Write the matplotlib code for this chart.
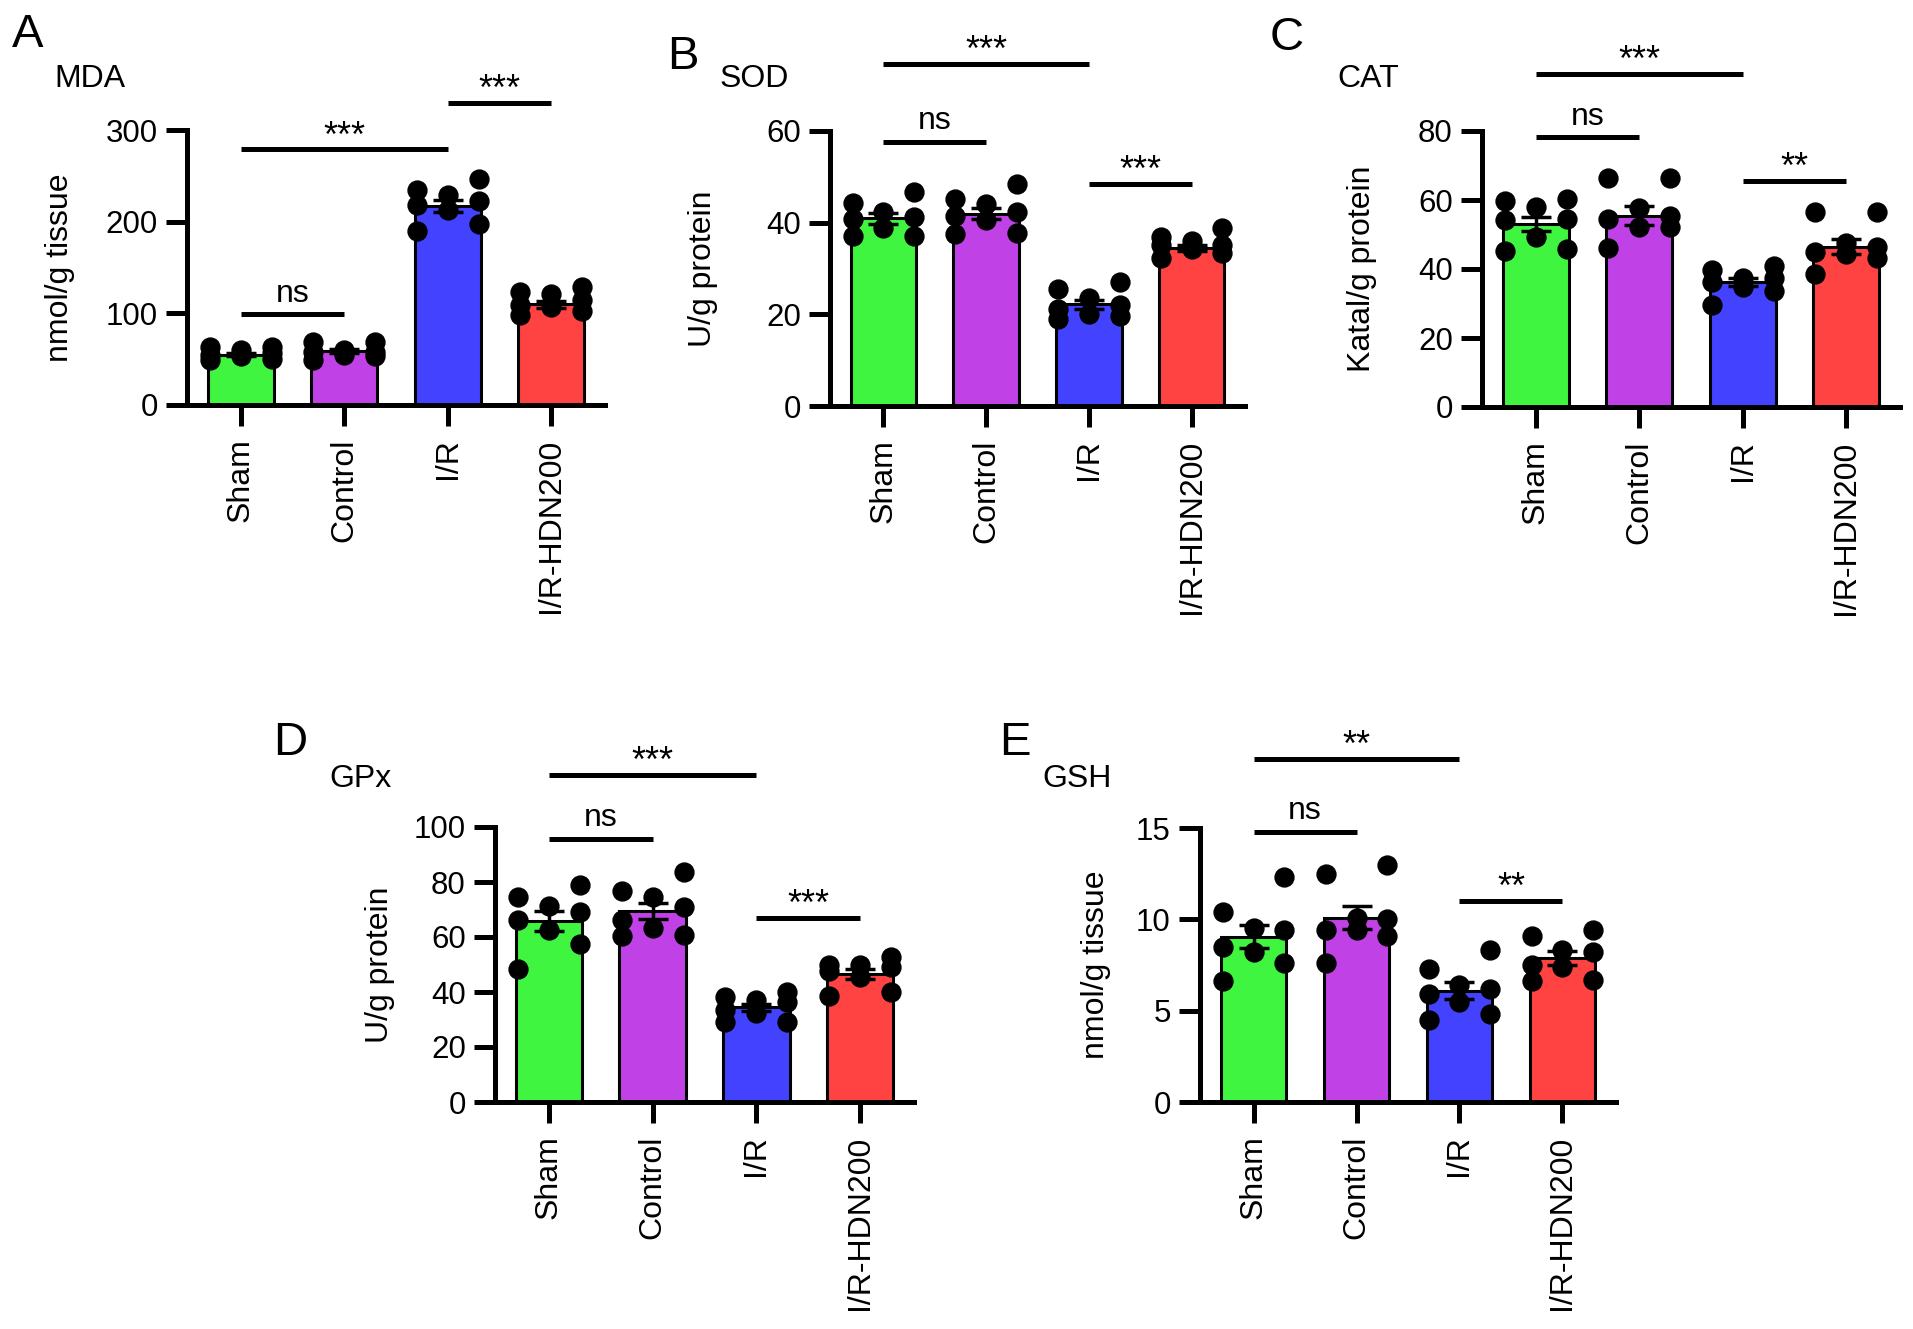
import numpy as np
import matplotlib.pyplot as plt

plt.rcParams['font.family'] = ['Liberation Sans', 'DejaVu Sans']

W, H = 1913, 1329

groups = ['Sham', 'Control', 'I/R', 'I/R-HDN200']
bar_colors = ['#40F53F', '#C042E6', '#4242FF', '#FF4242']

# MDA (nmol/g tissue)
mda_mean = [55, 59, 217, 110]
mda_sem = [2.0, 2.5, 7.0, 4.0]
mda_dots = [[54, 63, 60, 49, 63, 50, 55, 57],
            [55, 69, 58, 60, 69, 49, 58, 54],
            [246, 222, 190, 229, 213, 234, 197, 218],
            [109, 121, 103, 129, 123, 107, 98, 115]]
mda_sig = [(0, 2, 279, '***'), (0, 1, 99, 'ns'), (2, 3, 330, '***')]

# SOD (U/g protein)
sod_mean = [41.0, 42.0, 22.2, 34.5]
sod_sem = [1.2, 1.3, 1.0, 0.7]
sod_dots = [[46.7, 41.3, 37.1, 42.4, 38.9, 44.3, 40.7, 37.1],
            [48.5, 42.4, 37.6, 44.0, 40.5, 45.2, 41.4, 37.8],
            [27.0, 19.7, 23.5, 21.1, 25.6, 19.0, 22.0, 20.0],
            [36.9, 33.3, 38.9, 34.2, 36.0, 32.4, 35.1, 35.1]]
sod_sig = [(0, 2, 74.7, '***'), (0, 1, 57.7, 'ns'), (2, 3, 48.5, '***')]

# CAT (Katal/g protein)
cat_mean = [53.0, 55.5, 36.2, 46.5]
cat_sem = [2.0, 2.8, 1.2, 2.2]
cat_dots = [[59.6, 54.4, 45.1, 58.0, 49.3, 60.2, 54.2, 45.7],
            [57.8, 52.3, 66.4, 46.0, 66.4, 52.3, 54.4, 55.4],
            [37.5, 34.9, 29.5, 37.5, 33.7, 39.7, 40.9, 36.1],
            [43.3, 38.5, 46.3, 56.6, 56.6, 47.5, 44.3, 44.8]]
cat_sig = [(0, 2, 96.6, '***'), (0, 1, 78.2, 'ns'), (2, 3, 65.6, '**')]

# GPx (U/g protein)
gpx_mean = [65.8, 69.5, 34.4, 46.6]
gpx_sem = [3.5, 3.0, 1.3, 1.7]
gpx_dots = [[69.0, 74.5, 57.3, 48.3, 79.0, 71.1, 62.5, 66.3],
            [74.5, 60.3, 83.5, 63.3, 76.8, 70.8, 60.6, 66.3],
            [40.0, 29.1, 37.0, 36.3, 29.1, 38.1, 32.5, 33.3],
            [49.0, 49.8, 38.5, 49.8, 40.0, 52.8, 45.3, 47.5]]
gpx_sig = [(0, 2, 119, '***'), (0, 1, 95.8, 'ns'), (2, 3, 67, '***')]

# GSH (nmol/g tissue)
gsh_mean = [9.06, 10.1, 6.1, 7.9]
gsh_sem = [0.65, 0.65, 0.45, 0.38]
gsh_dots = [[10.4, 8.5, 12.3, 9.4, 7.6, 6.6, 9.5, 8.2],
            [9.4, 12.5, 10.0, 7.6, 13.0, 10.1, 9.1, 9.4],
            [6.4, 5.9, 4.5, 8.3, 5.5, 7.3, 6.2, 4.8],
            [9.4, 8.3, 7.5, 6.6, 7.4, 9.1, 8.2, 6.7]]
gsh_sig = [(0, 2, 18.8, '**'), (0, 1, 14.8, 'ns'), (2, 3, 11, '**')]

# layout in pixels: left, right, top, bottom of the axes box
panels = [
    dict(letter='A', title='MDA', ylabel='nmol/g tissue', mean=mda_mean, sem=mda_sem,
         dots=mda_dots, sig=mda_sig, ymax=300, yticks=[0, 100, 200, 300],
         box=(187, 605, 130, 405), title_xy=(54, 79), letter_xy=(12, 13), ylab_x=-0.268),
    dict(letter='B', title='SOD', ylabel='U/g protein', mean=sod_mean, sem=sod_sem,
         dots=sod_dots, sig=sod_sig, ymax=60, yticks=[0, 20, 40, 60],
         box=(830, 1245, 131, 406), title_xy=(720, 79), letter_xy=(667, 35), ylab_x=-0.27),
    dict(letter='C', title='CAT', ylabel='Katal/g protein', mean=cat_mean, sem=cat_sem,
         dots=cat_dots, sig=cat_sig, ymax=80, yticks=[0, 20, 40, 60, 80],
         box=(1482, 1900, 131, 407), title_xy=(1337, 79), letter_xy=(1270, 16), ylab_x=-0.251),
    dict(letter='D', title='GPx', ylabel='U/g protein', mean=gpx_mean, sem=gpx_sem,
         dots=gpx_dots, sig=gpx_sig, ymax=100, yticks=[0, 20, 40, 60, 80, 100],
         box=(495, 914, 827, 1102), title_xy=(329, 779), letter_xy=(273, 721), ylab_x=-0.239),
    dict(letter='E', title='GSH', ylabel='nmol/g tissue', mean=gsh_mean, sem=gsh_sem,
         dots=gsh_dots, sig=gsh_sig, ymax=15, yticks=[0, 5, 10, 15],
         box=(1200, 1616, 828, 1102), title_xy=(1042, 779), letter_xy=(999, 721), ylab_x=-0.214),
]

fig = plt.figure(figsize=(W / 100, H / 100), dpi=100)

lw = 3.6
fs = 23
x = np.arange(len(groups))
pattern = [-0.3, 0.3, 0.0]

for p in panels:
    l, r, t, b = p['box']
    ax = fig.add_axes([l / W, (H - b) / H, (r - l) / W, (b - t) / H])

    ax.bar(x, p['mean'], width=0.64, color=bar_colors, edgecolor='black',
           linewidth=2.2, zorder=1)

    for i, vals in enumerate(p['dots']):
        order = np.argsort(vals)
        offs = np.zeros(len(vals))
        for k, j in enumerate(order):
            offs[j] = pattern[k % 3]
        ax.scatter(x[i] + offs, vals, s=185, color='black', zorder=3, clip_on=False)

    ax.errorbar(x, p['mean'], yerr=p['sem'], fmt='none', ecolor='black',
                elinewidth=2.5, capsize=11, capthick=2.5, zorder=4)

    for a, c, y, label in p['sig']:
        ax.plot([a, c], [y, y], color='black', lw=lw, clip_on=False,
                solid_capstyle='butt')
        if label == 'ns':
            off, size = 9, fs
        else:
            off, size = 2, 26
        ax.annotate(label, xy=((a + c) / 2, y), xytext=(0, off),
                    textcoords='offset points', ha='center', va='baseline',
                    fontsize=size, annotation_clip=False)

    ax.set_xlim(-0.52, 3.52)
    ax.set_ylim(0, p['ymax'])
    ax.set_yticks(p['yticks'])
    ax.set_xticks(x)
    ax.set_xticklabels(groups, rotation=90, ha='center', va='top')
    for s in ['top', 'right']:
        ax.spines[s].set_visible(False)
    for s in ['left', 'bottom']:
        ax.spines[s].set_linewidth(lw)
    ax.tick_params(width=lw, length=15, labelsize=fs - 0.5, pad=6)
    ax.tick_params(axis='x', pad=9, labelsize=fs)
    ax.set_ylabel(p['ylabel'], fontsize=fs)
    ax.yaxis.set_label_coords(p['ylab_x'], 0.5)

    tx, ty = p['title_xy']
    fig.text(tx / W, 1 - ty / H, p['title'], fontsize=fs, ha='left', va='center')
    lx, ly = p['letter_xy']
    fig.text(lx / W, 1 - ly / H, p['letter'], fontsize=34, ha='left', va='top')

fig.savefig('out.png', dpi=100, facecolor='white')
